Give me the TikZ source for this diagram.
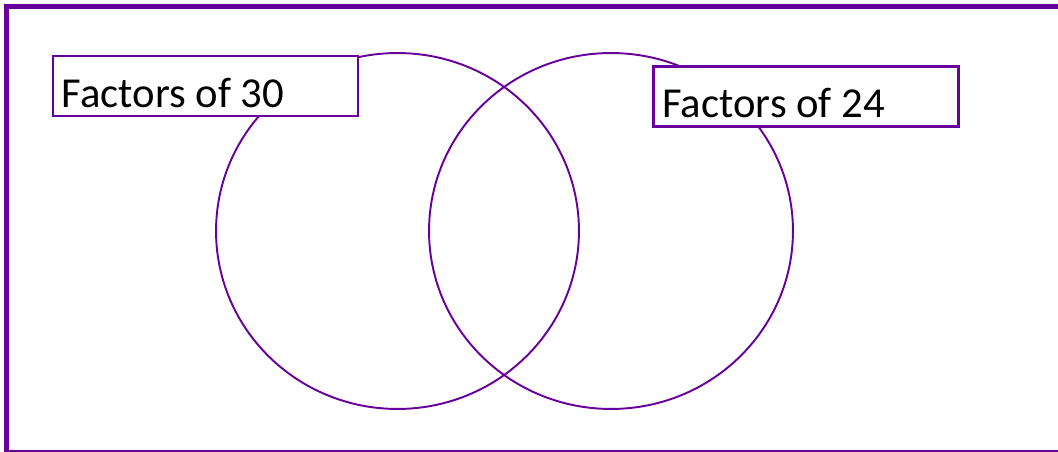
\documentclass[tikz,border=0pt]{standalone}
\usepackage{fontspec}
\setmainfont{Carlito}
\usetikzlibrary{shapes.geometric}
\definecolor{vennpurple}{RGB}{104,0,156}
\begin{document}
\begin{tikzpicture}[x=0.02cm,y=-0.02cm,
  vennset/.style={draw=vennpurple,line width=1.1pt,ellipse,inner sep=0pt},
  factbox/.style={draw=vennpurple,line width=1.6pt,rectangle,inner sep=0pt,minimum width=6.1cm,minimum height=1.2cm},
  facttext/.style={font=\fontsize{24.3}{28}\selectfont,inner sep=0pt,anchor=base west}]
\useasboundingbox (0,0) rectangle (1058,452);
\clip (0,0) rectangle (1058,452);
\draw[vennpurple,line width=2.8pt] (6.5,6.5) rectangle (1070,452.3);
\path node[vennset,minimum width=7.26cm,minimum height=7.12cm] (set30) at (397.5,231) {}
node[vennset,minimum width=7.28cm,minimum height=7.12cm] (set24) at (611,231) {}
node[factbox,fill=white] (box30) at (205.5,86) {}
node[factbox,fill=white] (box24) at (806,96.5) {}
;
\node[facttext] (lab30) at ([xshift=0.2cm,yshift=0.2cm]box30.south west) {Factors of 30};
\node[facttext] (lab24) at ([xshift=0.2cm,yshift=0.2cm]box24.south west) {Factors of 24};
\end{tikzpicture}
\end{document}
